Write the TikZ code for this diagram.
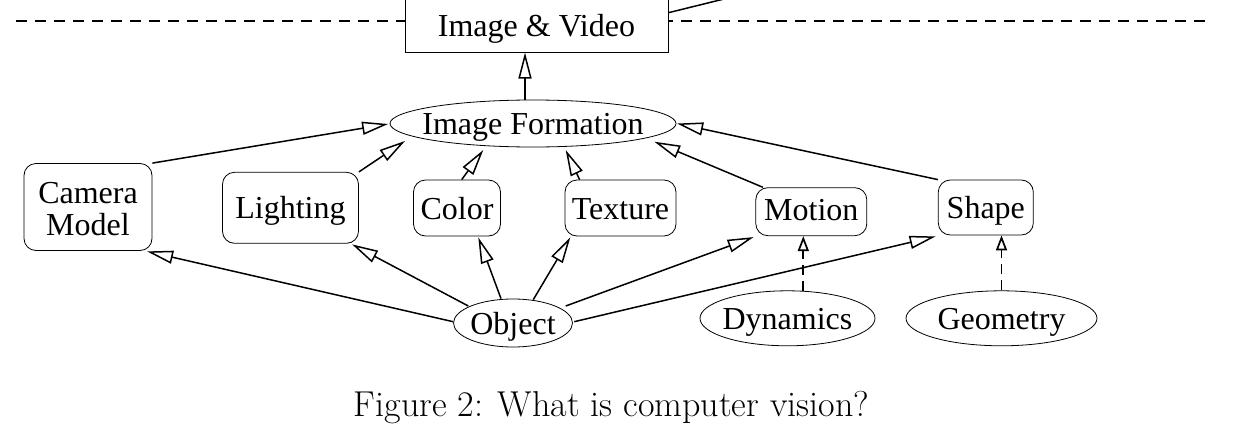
\documentclass[tikz,border=0pt]{standalone}
\usepackage{fontspec}
\newfontfamily\tms{Liberation Serif}
\usetikzlibrary{arrows.meta,shapes.geometric,calc}
\tikzset{
  lbl/.style={font=\tms\fontsize{32}{32}\selectfont, inner sep=0pt, align=center},
  one/.style={text height=22pt, text depth=0pt},
  rbox/.style={lbl, draw, line width=0.8pt, rounded corners=12pt},
  ell/.style={lbl, one, draw, ellipse, line width=0.8pt},
  arr/.style={line width=1.5pt, -{Triangle[open, length=26pt, width=13pt]}},
  darr/.style={line width=1.7pt, dash pattern=on 10pt off 6pt, -{Triangle[open, length=15pt, width=11pt, sep=0pt]}},
}
\begin{document}
\begin{tikzpicture}[x=1pt, y=-1pt]
\useasboundingbox (0,0) rectangle (1239,431);
\clip (0,0) rectangle (1239,431);
% separator line
\coordinate (sepL) at (16,20.7);
\coordinate (sepR) at (1212,20.7);
\draw[line width=2pt, dash pattern=on 10.5pt off 8.5pt] (sepL) -- (sepR);
% nodes
\node[lbl, one, draw, line width=1pt, fill=white, minimum width=263pt, minimum height=54pt] (IV) at (536.5,25) {Image \& Video};
\node[ell, minimum width=286pt, minimum height=47pt] (IF) at (533,123.5) {\makebox[0pt]{Image Formation}};
\node[rbox, text height=56pt, text depth=0pt, minimum width=128pt, minimum height=87pt] (cam) at (88,207) {Camera\\Model};
\node[rbox, one, minimum width=136pt, minimum height=71pt] (light) at (290.5,207.8) {Lighting};
\node[rbox, one, minimum width=87pt, minimum height=56pt] (color) at (457,208) {Color};
\node[rbox, one, minimum width=111pt, minimum height=56pt] (texture) at (620.5,208) {Texture};
\node[rbox, text height=18pt, text depth=0pt, minimum width=111pt, minimum height=48pt] (motion) at (811.3,211.7) {Motion};
\node[rbox, one, minimum width=95pt, minimum height=55pt] (shape) at (985.8,207.5) {Shape};
\node[ell, minimum width=119pt, minimum height=48pt] (obj) at (513,323) {\makebox[0pt]{Object}};
\node[ell, minimum width=175pt, minimum height=55pt] (dyn) at (787.5,318.3) {\makebox[0pt]{Dynamics}};
\node[ell, minimum width=191pt, minimum height=55pt] (geo) at (1001.5,318.3) {\makebox[0pt]{Geometry}};
% caption
\node[anchor=base, inner sep=0pt, font=\fontsize{36}{38}\selectfont] (cap) at (611.5,416) {Figure 2: What is computer vision?};
% off-picture connector from Image & Video
\coordinate (offtop) at (900,-44.5);
\draw[line width=1.5pt] ($(IV.east)+(0,-12.3)$) -- (offtop);
% connectors
\draw[arr] (IF.north -| IV.south) ++(-11.5,0) coordinate (ifn) -- (ifn |- IV.south);
\draw[arr] (cam.north east) -- ($(IF.west)+(-1.5,0.5)$);
\draw[arr] (light.north east) -- ($(IF.center)+(-128,17.5)$);
\draw[arr] ($(color.north)+(4.7,0)$) -- ($(IF.center)+(-49.7,26.5)$);
\draw[arr] ($(texture.north west)+(15,0)$) -- ($(IF.center)+(32.7,26.5)$);
\draw[arr] ($(motion.north west)+(7.5,0)$) -- ($(IF.center)+(121.3,18.2)$);
\draw[arr] (shape.north west) -- ($(IF.east)+(0.7,0)$);
\draw[arr] ($(obj.west)+(0,-1.3)$) -- ($(cam.south east)+(-5.3,0.5)$);
\draw[arr] ($(obj.center)+(-44.7,-17)$) -- ($(light.south east)+(-6.8,0.7)$);
\draw[arr] ($(obj.north)+(-12,0)$) -- ($(color.south)+(21.3,1)$);
\draw[arr] ($(obj.north)+(20.3,1)$) -- ($(texture.south west)+(5.7,1)$);
\draw[arr] ($(obj.center)+(52.7,-17)$) -- ($(motion.south west)+(-1.8,1)$);
\draw[arr] ($(obj.east)+(1.3,-1.3)$) -- ($(shape.south west)+(-2.3,1)$);
\draw[darr] ($(dyn.north)+(15.8,0.4)$) coordinate (dn) -- (dn |- motion.south);
\draw[darr] (geo.north) -- (geo.north |- shape.south);
\end{tikzpicture}
\end{document}
